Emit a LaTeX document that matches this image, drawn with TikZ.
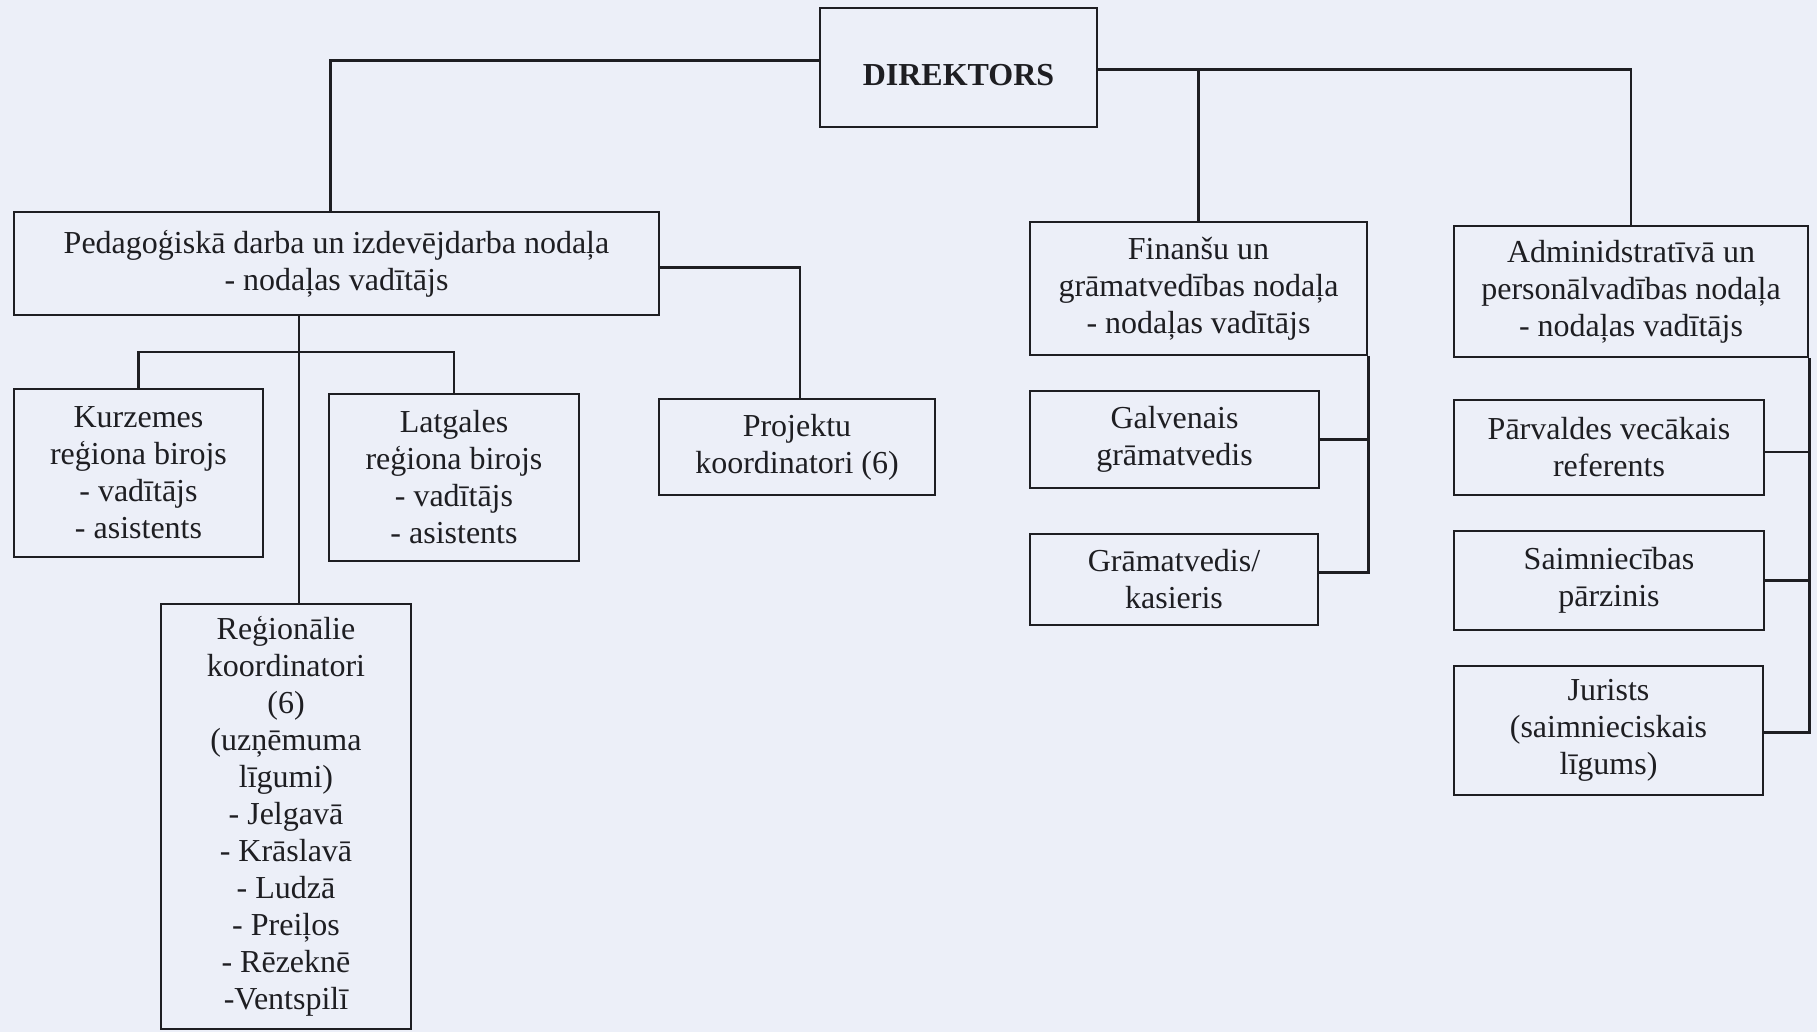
\documentclass[tikz,border=0pt]{standalone}
\usepackage{fontspec}
\setmainfont{Liberation Serif}
\definecolor{paper}{RGB}{236,239,248}
\definecolor{ink}{RGB}{30,30,34}
\begin{document}
\begin{tikzpicture}[x=1pt,y=-1pt,
  box/.style={draw=ink, line width=2.5pt, align=center, text=ink,
    font=\fontsize{32}{37}\selectfont, inner sep=0pt},
  conn/.style={draw=ink, line width=2.5pt}]
\fill[paper] (0,0) rectangle (1817,1032);
\useasboundingbox (0,0) rectangle (1817,1032);

% top
\node[box, minimum width=277pt, minimum height=119pt, text height=36pt, text depth=0pt] (dir) at (958.5,67.5) {\textbf{DIREKTORS}};

% left department
\node[box, minimum width=645pt, minimum height=103pt] (ped) at (336.5,263.5)
  {Pedagoģiskā darba un izdevējdarba nodaļa\\- nodaļas vadītājs};
\node[box, minimum width=276pt, minimum height=96pt] (proj) at (797,447)
  {Projektu\\koordinatori (6)};
\node[box, minimum width=249pt, minimum height=168pt] (kur) at (138.5,473)
  {Kurzemes\\reģiona birojs\\- vadītājs\\- asistents};
\node[box, minimum width=250pt, minimum height=167pt] (lat) at (454,477.5)
  {Latgales\\reģiona birojs\\- vadītājs\\- asistents};
\node[box, minimum width=250pt, minimum height=425pt] (reg) at (286,816.5)
  {Reģionālie\\koordinatori\\(6)\\(uzņēmuma\\līgumi)\\- Jelgavā\\- Krāslavā\\- Ludzā\\- Preiļos\\- Rēzeknē\\-Ventspilī};

% finance
\node[box, minimum width=337pt, minimum height=133pt] (fin) at (1198.5,288.5)
  {Finanšu un\\grāmatvedības nodaļa\\- nodaļas vadītājs};
\node[box, minimum width=289pt, minimum height=97pt] (gal) at (1174.5,439.5)
  {Galvenais\\grāmatvedis};
\node[box, minimum width=288pt, minimum height=91pt] (gra) at (1174,579.5)
  {Grāmatvedis/\\kasieris};

% administration
\node[box, minimum width=354pt, minimum height=131pt] (adm) at (1631,291.5)
  {Adminidstratīvā un\\personālvadības nodaļa\\- nodaļas vadītājs};
\node[box, minimum width=310pt, minimum height=95pt] (par) at (1609,447.5)
  {Pārvaldes vecākais\\referents};
\node[box, minimum width=310pt, minimum height=99pt] (sai) at (1609,580.5)
  {Saimniecības\\pārzinis};
\node[box, minimum width=309pt, minimum height=129pt] (jur) at (1608.5,730.5)
  {Jurists\\(saimnieciskais\\līgums)};

% connectors
\coordinate (dr) at ([yshift=-2pt]dir.east);
\draw[conn] ([yshift=7pt]dir.west) -| ([xshift=-6pt]ped.north);
\draw[conn] (dr) -| (adm.north);
\draw[conn] (fin.north) -- (fin.north |- dr);
\draw[conn] ([yshift=-4pt]ped.east) -| ([xshift=3pt]proj.north);
\coordinate (rt) at ([xshift=13pt]reg.north);
\draw[conn] (rt |- ped.south) -- (rt);
\coordinate (kb) at (139,352);
\draw[conn] (kur.north) -- (kur.north |- kb) -- (lat.north |- kb) -- (lat.north);
\draw[conn] (fin.south east) |- ([yshift=7pt]gra.east);
\draw[conn] (gal.east) -- (gal.east -| fin.east);
\draw[conn] (adm.south east) |- ([yshift=-2pt]jur.east);
\draw[conn] ([yshift=-4.5pt]par.east) -- ([yshift=-4.5pt]par.east -| adm.east);
\draw[conn] (sai.east) -- (sai.east -| adm.east);
\end{tikzpicture}
\end{document}
